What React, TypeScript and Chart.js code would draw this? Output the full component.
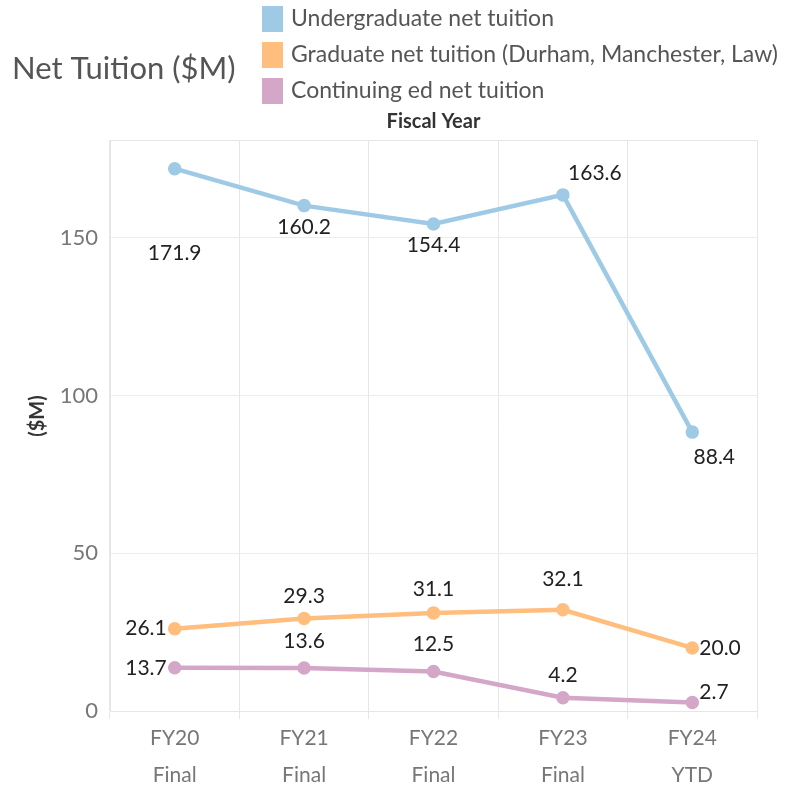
import React, { useEffect, useRef } from "react";
import { Chart, registerables } from "chart.js";

Chart.register(...registerables);

const categories: string[][] = [
  ["FY20", "Final"],
  ["FY21", "Final"],
  ["FY22", "Final"],
  ["FY23", "Final"],
  ["FY24", "YTD"],
];
const undergrad = [171.9, 160.2, 154.4, 163.6, 88.4];
const graduate = [26.1, 29.3, 31.1, 32.1, 20.0];
const continuing = [13.7, 13.6, 12.5, 4.2, 2.7];
const seriesNames = [
  "Undergraduate net tuition",
  "Graduate net tuition (Durham, Manchester, Law)",
  "Continuing ed net tuition",
];
const yTicks = [0, 50, 100, 150];

const COLORS = ["#9fcae6", "#ffbe7d", "#d4a6c8"];
const FONT = "Lato, 'Noto Sans', sans-serif";

// label placement per series/point: [dx, dy, align]
const LABEL_POS: [number, number, CanvasTextAlign][][] = [
  [[0, 85, "center"], [0, 22, "center"], [0, 21, "center"], [32, -22, "center"], [22, 25, "center"]],
  [[-8, 0, "right"], [0, -22, "center"], [0, -24, "center"], [0, -30, "center"], [7, 0, "left"]],
  [[-8, 0, "right"], [0, -27, "center"], [0, -27, "center"], [0, -23, "center"], [7, -10, "left"]],
];

const decorPlugin = {
  id: "decor",
  afterDraw(chart: any) {
    const ctx = chart.ctx;
    const area = chart.chartArea;
    ctx.save();
    // top border line
    ctx.strokeStyle = "#e6e6e6";
    ctx.lineWidth = 1;
    ctx.beginPath();
    ctx.moveTo(area.left, area.top + 0.5);
    ctx.lineTo(area.right, area.top + 0.5);
    ctx.stroke();

    // title
    ctx.fillStyle = "#555555";
    ctx.font = `31px ${FONT}`;
    ctx.textAlign = "left";
    ctx.textBaseline = "middle";
    ctx.fillText("Net Tuition ($M)", 12, 69);

    // legend
    seriesNames.forEach((name, i) => {
      const y = 6 + i * 36;
      ctx.fillStyle = COLORS[i];
      ctx.fillRect(262, y, 21, 26);
      ctx.fillStyle = "#555555";
      ctx.font = `23px ${FONT}`;
      ctx.textAlign = "left";
      ctx.fillText(name, 291, y + 13);
    });

    // Fiscal Year header
    ctx.fillStyle = "#333333";
    ctx.font = `bold 20px ${FONT}`;
    ctx.textAlign = "center";
    ctx.fillText("Fiscal Year", (area.left + area.right) / 2, 122);

    // y axis title
    ctx.save();
    ctx.translate(38, 416);
    ctx.rotate(-Math.PI / 2);
    ctx.font = `bold 20px ${FONT}`;
    ctx.fillStyle = "#333333";
    ctx.textAlign = "center";
    ctx.fillText("($M)", 0, 0);
    ctx.restore();

    // data labels
    ctx.font = `21px ${FONT}`;
    ctx.fillStyle = "#222222";
    ctx.textBaseline = "middle";
    chart.data.datasets.forEach((ds: any, di: number) => {
      const meta = chart.getDatasetMeta(di);
      meta.data.forEach((pt: any, pi: number) => {
        const [dx, dy, align] = LABEL_POS[di][pi];
        ctx.textAlign = align;
        ctx.fillText(Number(ds.data[pi]).toFixed(1), pt.x + dx, pt.y + dy);
      });
    });
    ctx.restore();
  },
};

export default function App() {
  const ref = useRef<HTMLCanvasElement | null>(null);
  useEffect(() => {
    document.body.style.margin = "0";
    const mk = (label: string, data: number[], i: number) => ({
      label,
      data,
      borderColor: COLORS[i],
      backgroundColor: COLORS[i],
      pointBackgroundColor: COLORS[i],
      pointBorderColor: COLORS[i],
      borderWidth: 4.5,
      pointRadius: 4.5,
      tension: 0,
    });
    const chart = new Chart(ref.current!, {
      type: "line",
      data: {
        labels: categories,
        datasets: [
          mk(seriesNames[0], undergrad, 0),
          mk(seriesNames[1], graduate, 1),
          mk(seriesNames[2], continuing, 2),
        ],
      },
      options: {
        responsive: false,
        animation: false,
        layout: { padding: { top: 140, right: 40, left: 0, bottom: 0 } },
        plugins: { legend: { display: false }, tooltip: { enabled: false } },
        scales: {
          x: {
            offset: true,
            grid: { offset: true, color: "#e6e6e6", drawTicks: true, tickLength: 8 },
            border: { color: "#e6e6e6" },
            ticks: {
              color: "#777777",
              font: { family: FONT, size: 21, lineHeight: 1.8 },
              padding: 0,
              maxRotation: 0,
            },
            afterFit: (s: any) => {
              s.height = 74;
            },
          },
          y: {
            min: 0,
            max: 181,
            grid: { color: "#ececec", drawTicks: false },
            border: { color: "#e6e6e6" },
            ticks: {
              stepSize: 50,
              includeBounds: false,
              color: "#777777",
              font: { family: FONT, size: 22 },
              padding: 12,
            },
            afterBuildTicks: (s: any) => {
              s.ticks = yTicks.map((v) => ({ value: v }));
            },
            afterFit: (s: any) => {
              s.width = 110;
            },
          },
        },
      },
      plugins: [decorPlugin],
    });
    return () => chart.destroy();
  }, []);
  return (
    <div style={{ width: 797, height: 785 }}>
      <canvas ref={ref} width={797} height={785} style={{ display: "block" }} />
    </div>
  );
}
